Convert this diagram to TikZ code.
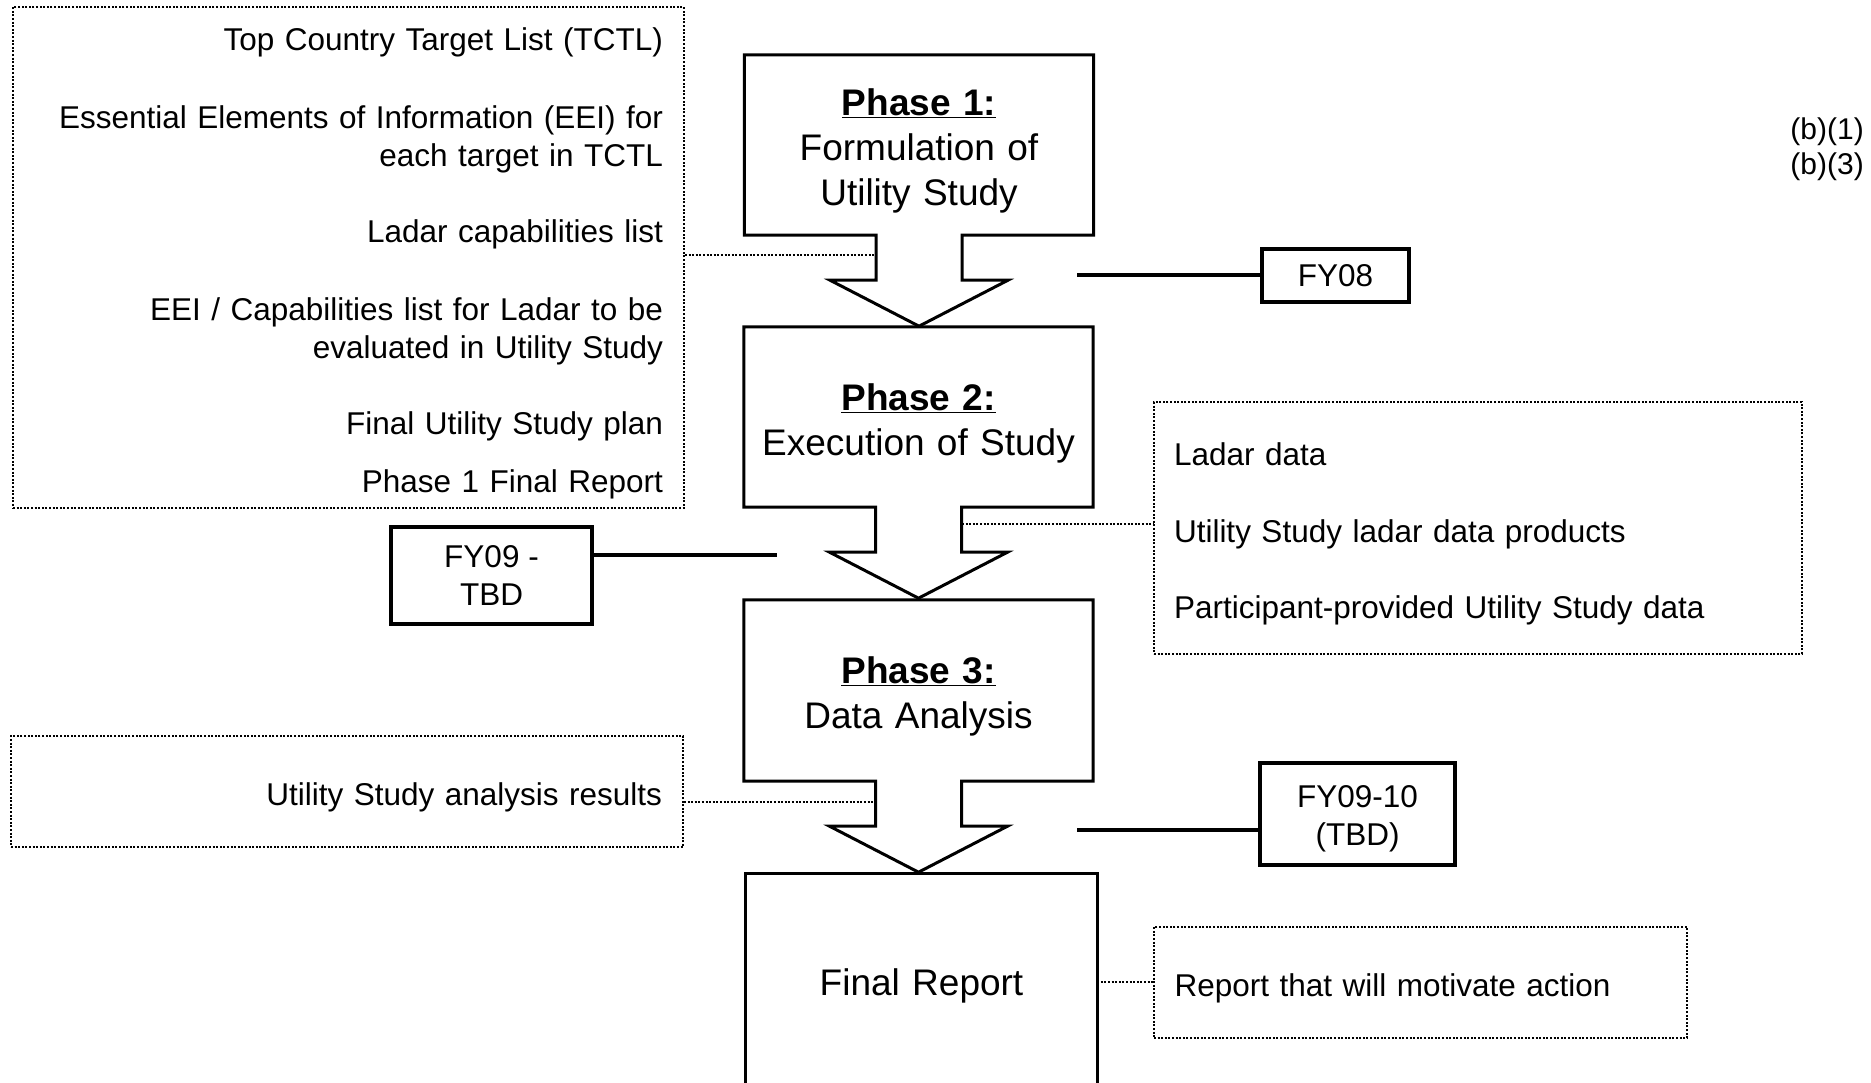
\documentclass[tikz,border=0pt]{standalone}
\usepackage{fontspec}
\setmainfont{Liberation Sans}
\usetikzlibrary{positioning}

\begin{document}
\begin{tikzpicture}[x=1pt,y=-1pt]
	\tikzstyle{phase}=[rectangle,align=center,font=\fontsize{37}{45}\selectfont,minimum width=349pt,text width=349pt,inner sep=0pt,execute at begin node={\rule{0pt}{39pt}}]
	\tikzstyle{phaseline}=[line width=3pt,line join=miter]
	\tikzstyle{infobox}=[rectangle,draw,line width=1.8pt,dash pattern=on 2pt off 1.6pt,inner sep=0pt,font=\fontsize{31.5}{38}\selectfont,execute at begin node={\rule{0pt}{34pt}}]
	\tikzstyle{yearbox}=[rectangle,draw,line width=3.5pt,align=center,inner sep=0pt,font=\fontsize{31.5}{38}\selectfont]
	\tikzstyle{dotline}=[line width=1.8pt,dash pattern=on 2pt off 1.6pt]
	\tikzstyle{yearline}=[line width=3.5pt]

	\useasboundingbox (0,0) rectangle (1871,1083);

	% the phases
	\node[phase,minimum height=180pt](p1) at (919,145){\underline{\textbf{Phase 1:}}\\Formulation of\\Utility Study};
	\node[phase,minimum height=180pt](p2) at (918.5,417){\underline{\textbf{Phase 2:}}\\Execution of Study};
	\node[phase,minimum height=181pt](p3) at (918.5,690.5){\underline{\textbf{Phase 3:}}\\Data Analysis};
	\node[phase,minimum width=351pt,text width=351pt,minimum height=216pt,execute at begin node={},execute at end node={\rule[-12pt]{0pt}{0pt}}](final) at (921.5,982){Final Report};

	\foreach \p in {p1,p2,p3}
		\draw[phaseline] (\p.south west) -- (\p.north west) -- (\p.north east) -- (\p.south east)
			-- ([xshift=43pt]\p.south) -- ([xshift=43pt,yshift=-45pt]\p.south)
			-- ([xshift=89pt,yshift=-45pt]\p.south) -- ([yshift=-91pt]\p.south)
			-- ([xshift=-89pt,yshift=-45pt]\p.south) -- ([xshift=-43pt,yshift=-45pt]\p.south)
			-- ([xshift=-43pt]\p.south) -- cycle;
	\draw[phaseline] (final.south west) rectangle (final.north east);

	% inputs and outputs
	\node[infobox,minimum width=671pt,minimum height=501pt,text width=629pt,align=right](inputs) at (348.5,257.5){Top Country Target List (TCTL)\\[40pt]
		Essential Elements of Information (EEI) for\\each target in TCTL\\[38pt]
		Ladar capabilities list\\[40pt]
		EEI / Capabilities list for Ladar to be\\evaluated in Utility Study\\[38pt]
		Final Utility Study plan\\[20pt]
		Phase 1 Final Report};
	\node[infobox,minimum width=648pt,minimum height=252pt,text width=608pt,align=left](data) at (1478,528){Ladar data\\[39pt]
		Utility Study ladar data products\\[38pt]
		Participant-provided Utility Study data};
	\node[infobox,minimum width=672pt,minimum height=111pt,text width=630pt,align=right](results) at (347,791.5){Utility Study analysis results};
	\node[infobox,minimum width=533pt,minimum height=111pt,text width=492pt,align=left](report) at (1420.5,982.5){Report that will motivate action};

	\coordinate (s1) at (876,255);
	\coordinate (s2) at (962,524);
	\coordinate (s3) at (876,802);
	\draw[dotline] (inputs.east |- s1) -- (s1);
	\draw[dotline] (s2) -- (data.west |- s2);
	\draw[dotline] (results.east |- s3) -- (s3);
	\draw[dotline] (final.east) -- (report.west |- final.east);

	% years
	\node[yearbox,minimum width=147pt,minimum height=53pt](fy08) at (1335.5,275.5){FY08};
	\node[yearbox,minimum width=201pt,minimum height=97pt](fy09) at (491.5,575.5){FY09 -\\TBD};
	\node[yearbox,minimum width=195pt,text width=195pt,minimum height=102pt,execute at begin node={\rule{0pt}{32pt}}](fy10) at (1357.5,814){FY09-10\\(TBD)};
	\coordinate (y1) at (1077,275);
	\coordinate (y2) at (777,555);
	\coordinate (y3) at (1077,830);
	\draw[yearline] (fy08.west |- y1) -- (y1);
	\draw[yearline] (fy09.east |- y2) -- (y2);
	\draw[yearline] (fy10.west |- y3) -- (y3);

	\node[align=right,anchor=east,inner sep=0pt,font=\fontsize{30}{35}\selectfont](code) at (1864,149.5){(b)(1)\\(b)(3)};
\end{tikzpicture}
\end{document}
